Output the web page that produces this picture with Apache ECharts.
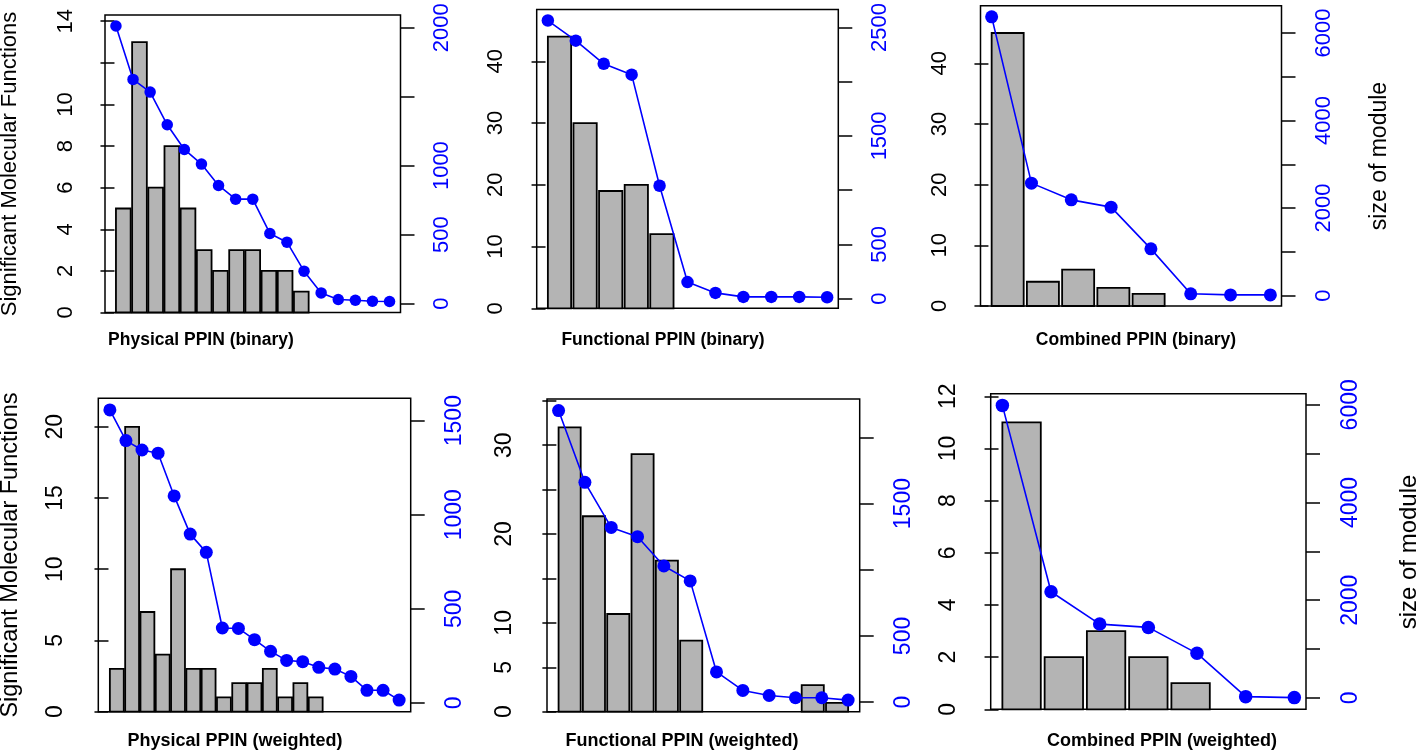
<!DOCTYPE html>
<html><head><meta charset="utf-8">
<script src="https://cdn.jsdelivr.net/npm/echarts@6/dist/echarts.min.js"></script>
<style>html,body{margin:0;padding:0;background:#fff}#c{width:1418px;height:752px}</style>
</head><body><div id="c"></div>
<script>
// ---------- data ----------
const panelTitles = ['Physical PPIN (binary)', 'Functional PPIN (binary)', 'Combined PPIN (binary)',
                     'Physical PPIN (weighted)', 'Functional PPIN (weighted)', 'Combined PPIN (weighted)'];
const leftAxisTitle = 'Significant Molecular Functions';
const rightAxisTitle = 'size of module';

// bars: number of significant molecular functions per module
const bars1 = [5, 13, 6, 8, 5, 3, 2, 3, 3, 2, 2, 1];
const bars2 = [44, 30, 19, 20, 12];
const bars3 = [45, 4, 6, 3, 2];
const bars4 = [3, 20, 7, 4, 10, 3, 3, 1, 2, 2, 3, 1, 2, 1];
const bars5 = [32, 22, 11, 29, 17, 8, 0, 0, 0, 0, 3, 1];
const bars6 = [11, 2, 3, 2, 1];

// line: size of module
const sizes1 = [2012, 1625, 1533, 1296, 1117, 1011, 856, 757, 757, 508, 445, 235, 77, 29, 24, 17, 15];
const sizes2 = [2564, 2378, 2165, 2065, 1040, 152, 52, 15, 15, 15, 12];
const sizes3 = [6370, 2569, 2187, 2020, 1067, 40, 15, 15];
const sizes4 = [1557, 1394, 1344, 1327, 1100, 897, 800, 398, 396, 336, 274, 226, 219, 189, 180, 141, 67, 67, 15];
const sizes5 = [2203, 1661, 1320, 1250, 1029, 916, 228, 88, 50, 33, 33, 15];
const sizes6 = [5988, 2173, 1512, 1444, 913, 27, 7];

// tick values and tick labels
const leftTicks1 = [0, 2, 4, 6, 8, 10, 12, 14];   const leftLabels1 = [0, 2, 4, 6, 8, 10, 14];
const leftTicks2 = [0, 10, 20, 30, 40];           const leftLabels2 = [0, 10, 20, 30, 40];
const leftTicks3 = [0, 10, 20, 30, 40];           const leftLabels3 = [0, 10, 20, 30, 40];
const leftTicks4 = [0, 5, 10, 15, 20];            const leftLabels4 = [0, 5, 10, 15, 20];
const leftTicks5 = [0, 5, 10, 15, 20, 25, 30, 35];const leftLabels5 = [0, 5, 10, 20, 30];
const leftTicks6 = [0, 2, 4, 6, 8, 10, 12];       const leftLabels6 = [0, 2, 4, 6, 8, 10, 12];
const rightTicks1 = [0, 500, 1000, 1500, 2000];   const rightLabels1 = [0, 500, 1000, 2000];
const rightTicks2 = [0, 500, 1000, 1500, 2000, 2500]; const rightLabels2 = [0, 500, 1500, 2500];
const rightTicks3 = [0, 1000, 2000, 3000, 4000, 5000, 6000]; const rightLabels3 = [0, 2000, 4000, 6000];
const rightTicks4 = [0, 500, 1000, 1500];         const rightLabels4 = [0, 500, 1000, 1500];
const rightTicks5 = [0, 500, 1000, 1500, 2000];   const rightLabels5 = [0, 500, 1500];
const rightTicks6 = [0, 1000, 2000, 3000, 4000, 5000, 6000]; const rightLabels6 = [0, 2000, 4000, 6000];

// ---------- layout ----------
const FONT = "'Liberation Sans', Arial, Helvetica, sans-serif";
const panels = [
  {bars: bars1, sizes: sizes1, lt: leftTicks1, ll: leftLabels1, rt: rightTicks1, rl: rightLabels1,
   box: [105, 15, 400.5, 312.5], tx: 201, ty: 340, dot: 11.5, fs: 22, mL: 28, mR: 30},
  {bars: bars2, sizes: sizes2, lt: leftTicks2, ll: leftLabels2, rt: rightTicks2, rl: rightLabels2,
   box: [536.7, 5.7, 838.3, 308.3], tx: 663, ty: 340, dot: 12.5, fs: 22, mL: 30, mR: 31},
  {bars: bars3, sizes: sizes3, lt: leftTicks3, ll: leftLabels3, rt: rightTicks3, rl: rightLabels3,
   box: [980.5, 5.7, 1281.5, 306], tx: 1136, ty: 340, dot: 13, fs: 22, mL: 30, mR: 31.5},
  {bars: bars4, sizes: sizes4, lt: leftTicks4, ll: leftLabels4, rt: rightTicks4, rl: rightLabels4,
   box: [98.3, 398.3, 410.7, 711.7], tx: 235, ty: 741, dot: 13, fs: 23, mL: 31, mR: 32},
  {bars: bars5, sizes: sizes5, lt: leftTicks5, ll: leftLabels5, rt: rightTicks5, rl: rightLabels5,
   box: [547, 399, 859.7, 711.7], tx: 682, ty: 741, dot: 13, fs: 23, mL: 31, mR: 32},
  {bars: bars6, sizes: sizes6, lt: leftTicks6, ll: leftLabels6, rt: rightTicks6, rl: rightLabels6,
   box: [990.7, 393.7, 1306, 709.3], tx: 1162, ty: 741, dot: 13.5, fs: 23, mL: 31, mR: 33}
];

const plain = v => String(Math.round(v));
const grid = [], xAxis = [], yAxis = [], series = [], graphic = [];
panels.forEach((p, i) => {
  const n = p.sizes.length;
  const [x0, y0, x1, y1] = p.box;
  grid.push({left: x0, top: y0, width: x1 - x0, height: y1 - y0, show: true,
             borderColor: '#000', borderWidth: 1.5, backgroundColor: 'transparent'});
  // bar x scale (R barplot, space 0.1, xlim c(0.1, 1.1n), 4% padding)
  const bLo = 0.1, bHi = 1.1 * n, bPad = 0.04 * (bHi - bLo);
  xAxis.push({gridIndex: i, type: 'value', min: bLo - bPad, max: bHi + bPad, show: false});
  // line x scale (1..n, 4% padding)
  const lPad = 0.04 * (n - 1);
  xAxis.push({gridIndex: i, type: 'value', min: 1 - lPad, max: n + lPad, show: false});
  const bmax = Math.max(...p.bars);
  yAxis.push({gridIndex: i, type: 'value', position: 'left', min: 0, max: 1.1 * bmax,
    splitLine: {show: false}, axisLine: {show: false},
    axisTick: {show: true, length: 14, lineStyle: {color: '#000', width: 1.5}, customValues: p.lt},
    axisLabel: {rotate: 90, margin: p.mL, fontSize: p.fs, color: '#000', fontFamily: FONT,
                customValues: p.ll, formatter: plain}});
  const sLo = Math.min(...p.sizes), sHi = Math.max(...p.sizes), sPad = 0.04 * (sHi - sLo);
  yAxis.push({gridIndex: i, type: 'value', position: 'right', min: sLo - sPad, max: sHi + sPad,
    splitLine: {show: false}, axisLine: {show: false},
    axisTick: {show: true, length: 14, lineStyle: {color: '#000', width: 1.5}, customValues: p.rt},
    axisLabel: {rotate: 90, margin: p.mR, fontSize: p.fs, color: '#0000ff', fontFamily: FONT,
                customValues: p.rl, formatter: plain}});
  series.push({
    type: 'custom', coordinateSystem: 'cartesian2d', xAxisIndex: 2 * i, yAxisIndex: 2 * i,
    data: p.bars.map((v, k) => [k, v]), silent: true, z: 2, clip: false,
    renderItem: (params, api) => {
      const k = api.value(0), v = api.value(1);
      if (!v) return {type: 'group', children: []};
      const a = api.coord([0.1 + 1.1 * k, 0]);
      const b = api.coord([1.1 + 1.1 * k, v]);
      return {type: 'rect', shape: {x: a[0], y: b[1], width: b[0] - a[0], height: a[1] - b[1]},
              style: {fill: '#b4b4b4', stroke: '#000', lineWidth: 1.8}};
    }
  });
  series.push({
    type: 'line', xAxisIndex: 2 * i + 1, yAxisIndex: 2 * i + 1,
    data: p.sizes.map((v, j) => [j + 1, v]), symbol: 'circle', symbolSize: p.dot, showSymbol: true,
    lineStyle: {color: '#0000ff', width: 1.6}, itemStyle: {color: '#0000ff'}, z: 3, silent: true
  });
  graphic.push({type: 'text', x: p.tx, y: p.ty, silent: true,
    style: {text: panelTitles[i], font: `bold ${i < 3 ? 17.5 : 18}px ${FONT}`, fill: '#000',
            textAlign: 'center', textVerticalAlign: 'middle'}});
});
graphic.push({type: 'text', x: 10, y: 164, rotation: Math.PI / 2, silent: true,
  style: {text: leftAxisTitle, font: `22px ${FONT}`, fill: '#000', textAlign: 'center', textVerticalAlign: 'middle'}});
graphic.push({type: 'text', x: 10.5, y: 555, rotation: Math.PI / 2, silent: true,
  style: {text: leftAxisTitle, font: `23.5px ${FONT}`, fill: '#000', textAlign: 'center', textVerticalAlign: 'middle'}});
graphic.push({type: 'text', x: 1380, y: 156, rotation: Math.PI / 2, silent: true,
  style: {text: rightAxisTitle, font: `23px ${FONT}`, fill: '#000', textAlign: 'center', textVerticalAlign: 'middle'}});
graphic.push({type: 'text', x: 1409, y: 552, rotation: Math.PI / 2, silent: true,
  style: {text: rightAxisTitle, font: `24px ${FONT}`, fill: '#000', textAlign: 'center', textVerticalAlign: 'middle'}});

const chart = echarts.init(document.getElementById('c'), null, {renderer: 'canvas'});
chart.setOption({animation: false, backgroundColor: '#fff', grid, xAxis, yAxis, series, graphic});
</script></body></html>
